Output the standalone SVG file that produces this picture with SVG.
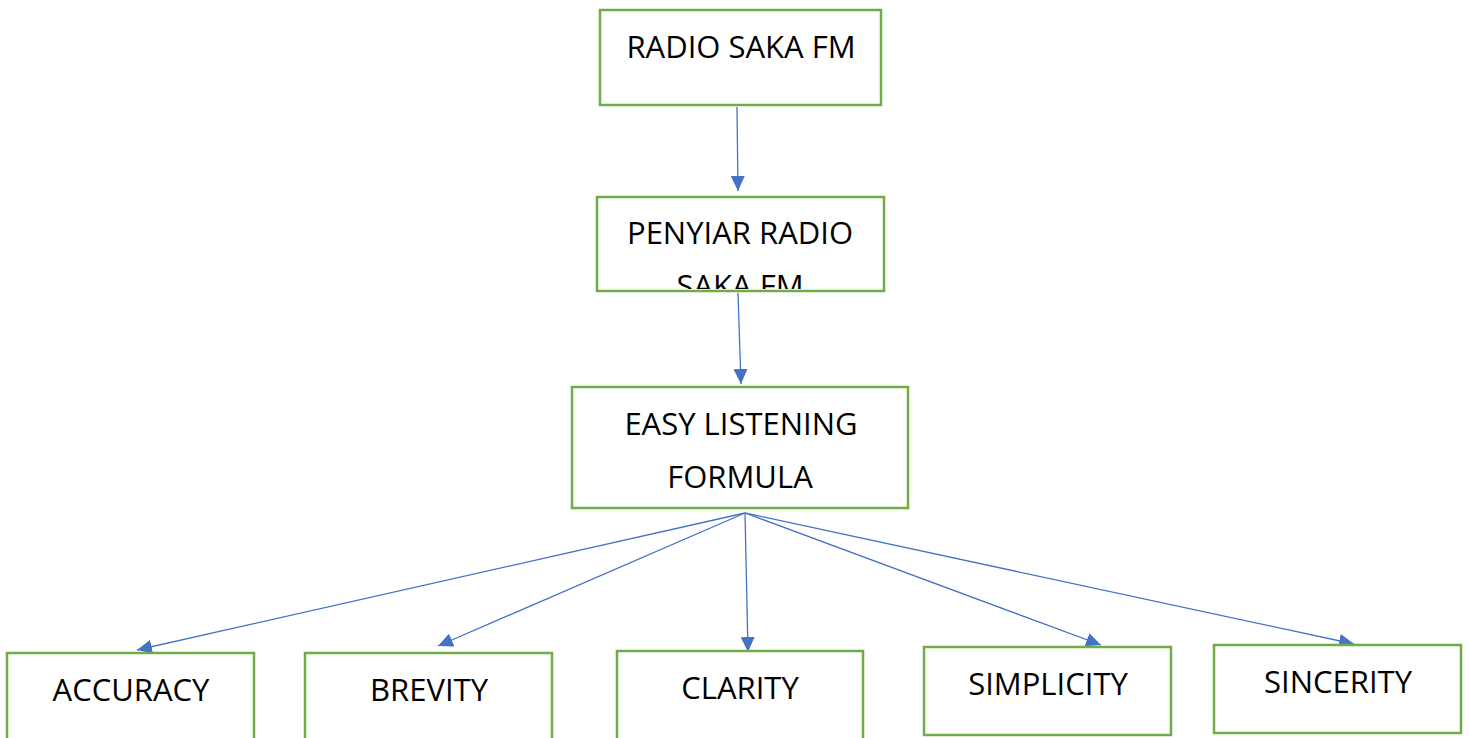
<svg xmlns="http://www.w3.org/2000/svg" width="1470" height="738" viewBox="0 0 1470 738">
<style>
.box{fill:#fff;stroke:#70AD47;stroke-width:2.5}
.t{font-family:"Open Sans","Noto Sans","Liberation Sans",sans-serif;font-size:31px;fill:#000;text-anchor:middle}
.c{stroke:#4472C4;stroke-width:1.3;fill:none;marker-end:url(#ah)}
</style>
<defs>
<marker id="ah" markerUnits="userSpaceOnUse" markerWidth="16" markerHeight="14" refX="15" refY="7" orient="auto">
<path d="M0,0 L15,7 L0,14 Z" fill="#4472C4"/>
</marker>
<clipPath id="clip2"><rect x="598" y="198" width="285" height="91"/></clipPath>
</defs>
<rect width="1470" height="738" fill="#fff"/>
<g id="connectors">
<line class="c" x1="737" y1="107" x2="738" y2="191"/>
<line class="c" x1="738" y1="293" x2="741" y2="384"/>
<line class="c" x1="745" y1="513" x2="137" y2="650"/>
<line class="c" x1="745" y1="513" x2="438" y2="646"/>
<line class="c" x1="745" y1="513" x2="748" y2="652"/>
<line class="c" x1="745" y1="513" x2="1101" y2="645"/>
<line class="c" x1="745" y1="513" x2="1354" y2="644"/>
</g>
<g id="radio">
<rect class="box" x="600" y="10" width="281" height="95"/>
<text class="t" x="741" y="58">RADIO SAKA FM</text>
</g>
<g id="penyiar">
<rect class="box" x="597" y="197" width="287" height="94"/>
<g clip-path="url(#clip2)">
<text class="t" x="740" y="244">PENYIAR RADIO</text>
<text class="t" x="740" y="297">SAKA FM</text>
</g>
</g>
<g id="easy">
<rect class="box" x="572" y="387" width="336" height="121"/>
<text class="t" x="741" y="435">EASY LISTENING</text>
<text class="t" x="740" y="488">FORMULA</text>
</g>
<g id="accuracy">
<rect class="box" x="7" y="653" width="247" height="100"/>
<text class="t" x="131" y="701">ACCURACY</text>
</g>
<g id="brevity">
<rect class="box" x="305" y="653" width="247" height="100"/>
<text class="t" x="429" y="701">BREVITY</text>
</g>
<g id="clarity">
<rect class="box" x="617" y="651" width="246" height="100"/>
<text class="t" x="740" y="699">CLARITY</text>
</g>
<g id="simplicity">
<rect class="box" x="924" y="647" width="247" height="88"/>
<text class="t" x="1048" y="695">SIMPLICITY</text>
</g>
<g id="sincerity">
<rect class="box" x="1214" y="645" width="247" height="88"/>
<text class="t" x="1338" y="693">SINCERITY</text>
</g>
</svg>
